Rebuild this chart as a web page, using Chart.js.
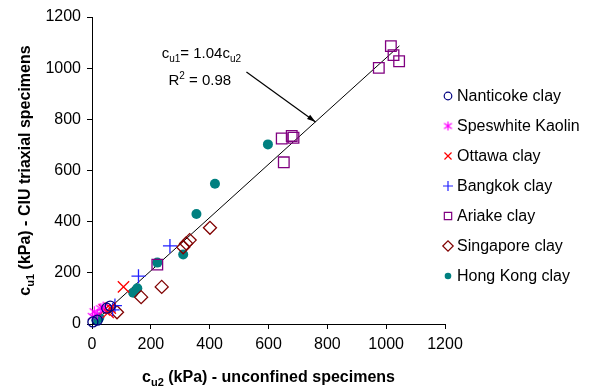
<!DOCTYPE html>
<html>
<head>
<meta charset="utf-8">
<script src="https://cdn.jsdelivr.net/npm/chart.js@4/dist/chart.umd.min.js"></script>
<style>
  html, body { margin: 0; padding: 0; background: #fff; }
  #wrap { width: 597px; height: 388px; }
</style>
</head>
<body>
<div id="wrap"><canvas id="soilChart" width="597" height="388"></canvas></div>
<script>
// values (kPa)
const nanticokeX = [3, 18, 50, 62];
const nanticokeY = [8, 15, 62, 70];
const speswhiteX = [2, 8, 18, 30, 38];
const speswhiteY = [30, 48, 38, 60, 66];
const ottawaX = [42, 55, 62, 107];
const ottawaY = [55, 45, 62, 145];
const bangkokX = [70, 78, 158, 265];
const bangkokY = [55, 72, 187, 305];
const ariakeX = [222, 645, 652, 679, 685, 975, 1016, 1025, 1044];
const ariakeY = [232, 725, 632, 735, 728, 1001, 1086, 1051, 1027];
const singaporeX = [85, 167, 237, 310, 320, 332, 401];
const singaporeY = [46, 105, 145, 300, 315, 328, 376];
const hongkongX = [15, 25, 140, 154, 222, 310, 355, 418, 598];
const hongkongY = [15, 25, 122, 140, 240, 272, 430, 548, 702];

// fitted line end points, cu1 = 1.04 cu2
const trendX = [0, 1045];
const trendY = [0, 1087];

const xTicks = [0, 200, 400, 600, 800, 1000, 1200];
const yTicks = [0, 200, 400, 600, 800, 1000, 1200];

const FONT = "'Liberation Sans', Arial, sans-serif";

// six-spoke asterisk marker (excel style)
function asterisk(size, color) {
  const c = document.createElement("canvas");
  c.width = size;
  c.height = size;
  const g = c.getContext("2d");
  const h = size / 2;
  const r = h - 1;
  g.strokeStyle = color;
  g.lineWidth = 1.2;
  g.beginPath();
  g.moveTo(h, h - r);
  g.lineTo(h, h + r);
  const d = r * 0.87;
  g.moveTo(h - d, h - r * 0.6);
  g.lineTo(h + d, h + r * 0.6);
  g.moveTo(h - d, h + r * 0.6);
  g.lineTo(h + d, h - r * 0.6);
  g.stroke();
  return c;
}

function pts(xs, ys) {
  return xs.map((x, i) => ({ x: x, y: ys[i] }));
}

function series(label, xs, ys, style, color, radius, fill) {
  return {
    type: "scatter",
    label: label,
    data: pts(xs, ys),
    pointStyle: style,
    pointRadius: radius,
    pointHoverRadius: radius,
    borderColor: color,
    backgroundColor: fill ? color : "rgba(0,0,0,0)",
    pointBorderWidth: fill ? 0 : 1.3,
    borderWidth: fill ? 0 : 1.3,
    clip: false,
  };
}

const datasets = [
  series("Nanticoke clay", nanticokeX, nanticokeY, "circle", "#000080", 5, false),
  series("Speswhite Kaolin", speswhiteX, speswhiteY, asterisk(13, "#ff00ff"), "#ff00ff", 6, false),
  series("Ottawa clay", ottawaX, ottawaY, "crossRot", "#ff0000", 8, false),
  series("Bangkok clay", bangkokX, bangkokY, "cross", "#2222ff", 7, false),
  series("Ariake clay", ariakeX, ariakeY, "rect", "#800080", 7.5, false),
  series("Singapore clay", singaporeX, singaporeY, "rectRot", "#800000", 6.5, false),
  series("Hong Kong clay", hongkongX, hongkongY, "circle", "#008080", 5, true),
  {
    type: "line",
    label: "fit",
    data: pts(trendX, trendY),
    borderColor: "#000",
    borderWidth: 1,
    pointRadius: 0,
    fill: false,
    clip: false,
  },
];

// text with sub / superscripts
function drawRich(ctx, parts, x, y, size, bold) {
  let cx = x;
  parts.forEach((p) => {
    const s = p.sub || p.sup ? Math.round(size * 0.68) : size;
    ctx.font = (bold ? "bold " : "") + s + "px " + FONT;
    const dy = p.sub ? size * 0.22 : p.sup ? -size * 0.38 : 0;
    ctx.fillText(p.t, cx, y + dy);
    cx += ctx.measureText(p.t).width;
  });
  return cx - x;
}

function richWidth(ctx, parts, size, bold) {
  let w = 0;
  parts.forEach((p) => {
    const s = p.sub || p.sup ? Math.round(size * 0.68) : size;
    ctx.font = (bold ? "bold " : "") + s + "px " + FONT;
    w += ctx.measureText(p.t).width;
  });
  return w;
}

const legendIcons = [null, asterisk(11, "#ff00ff"), null, null, null, null, null];

const extras = {
  id: "extras",
  afterDraw(chart) {
    const ctx = chart.ctx;
    const xs = chart.scales.x;
    const ys = chart.scales.y;
    const area = chart.chartArea;
    ctx.save();
    ctx.fillStyle = "#000";
    ctx.textAlign = "left";
    ctx.textBaseline = "alphabetic";

    // axis titles
    const xTitle = [{ t: "c" }, { t: "u2", sub: true }, { t: " (kPa) - unconfined specimens" }];
    const xw = richWidth(ctx, xTitle, 16, true);
    drawRich(ctx, xTitle, (area.left + area.right) / 2 - xw / 2, 382, 16, true);

    const yTitle = [{ t: "c" }, { t: "u1", sub: true }, { t: " (kPa) - CIU triaxial specimens" }];
    const yw = richWidth(ctx, yTitle, 16, true);
    ctx.save();
    ctx.translate(30, (area.top + area.bottom) / 2);
    ctx.rotate(-Math.PI / 2);
    drawRich(ctx, yTitle, -yw / 2, 0, 16, true);
    ctx.restore();

    // equation
    drawRich(ctx, [{ t: "c" }, { t: "u1", sub: true }, { t: "= 1.04c" }, { t: "u2", sub: true }],
      xs.getPixelForValue(237), ys.getPixelForValue(1038), 15, false);
    drawRich(ctx, [{ t: "R" }, { t: "2", sup: true }, { t: " = 0.98" }],
      xs.getPixelForValue(260), ys.getPixelForValue(934), 15, false);

    // arrow pointing at the line
    const ax0 = xs.getPixelForValue(525), ay0 = ys.getPixelForValue(985);
    const ax1 = xs.getPixelForValue(760), ay1 = ys.getPixelForValue(790);
    ctx.strokeStyle = "#000";
    ctx.lineWidth = 1.2;
    ctx.beginPath();
    ctx.moveTo(ax0, ay0);
    ctx.lineTo(ax1, ay1);
    ctx.stroke();
    const ang = Math.atan2(ay1 - ay0, ax1 - ax0);
    ctx.beginPath();
    ctx.moveTo(ax1, ay1);
    ctx.lineTo(ax1 - 9 * Math.cos(ang - 0.3), ay1 - 9 * Math.sin(ang - 0.3));
    ctx.lineTo(ax1 - 9 * Math.cos(ang + 0.3), ay1 - 9 * Math.sin(ang + 0.3));
    ctx.closePath();
    ctx.fill();

    // legend
    const sizes = [3.8, 5.5, 5, 5, 5.2, 5.2, 3.3];
    datasets.slice(0, 7).forEach((ds, i) => {
      const ly = 96 + i * 30;
      const lx = area.right + 3;
      ctx.strokeStyle = ds.borderColor;
      ctx.fillStyle = ds.backgroundColor;
      ctx.lineWidth = 1.2;
      Chart.helpers.drawPoint(ctx, {
        pointStyle: legendIcons[i] || ds.pointStyle,
        radius: sizes[i],
        rotation: 0,
        borderWidth: i === 6 ? 0 : 1.2,
      }, lx, ly);
      ctx.fillStyle = "#000";
      ctx.font = "16px " + FONT;
      ctx.textBaseline = "middle";
      ctx.fillText(ds.label, lx + 9, ly + 1);
      ctx.textBaseline = "alphabetic";
    });
    ctx.restore();
  },
};

const tickStyle = { color: "#000", padding: 6, font: { family: FONT, size: 16 }, callback: (v) => String(v) };

new Chart(document.getElementById("soilChart").getContext("2d"), {
  type: "scatter",
  data: { datasets: datasets },
  plugins: [extras],
  options: {
    responsive: false,
    animation: false,
    events: [],
    layout: { padding: { left: 0, top: 17, right: 152, bottom: 0 } },
    plugins: { legend: { display: false }, tooltip: { enabled: false } },
    scales: {
      x: {
        type: "linear",
        min: 0,
        max: 1200,
        afterBuildTicks: (s) => { s.ticks = xTicks.map((v) => ({ value: v })); },
        afterFit: (s) => { s.height = 64; },
        ticks: tickStyle,
        grid: { drawOnChartArea: false, drawTicks: true, tickLength: 5, color: "#000" },
        border: { color: "#000", width: 1 },
      },
      y: {
        type: "linear",
        min: 0,
        max: 1200,
        afterBuildTicks: (s) => { s.ticks = yTicks.map((v) => ({ value: v })); },
        afterFit: (s) => { s.width = 92; },
        ticks: tickStyle,
        grid: { drawOnChartArea: false, drawTicks: true, tickLength: 5, color: "#000" },
        border: { color: "#000", width: 1 },
      },
    },
  },
});
</script>
</body>
</html>
